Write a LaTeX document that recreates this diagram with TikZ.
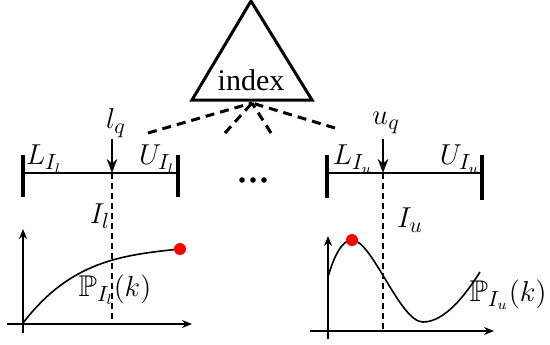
\documentclass[tikz,border=0pt]{standalone}
\usepackage{amsmath, amssymb}
\usepackage{fontspec}
\setmainfont{Liberation Serif}
\usetikzlibrary{arrows.meta, positioning, calc}

\begin{document}
\begin{tikzpicture}[x=0.5pt, y=-0.5pt, >=Stealth,
    lbl/.style={font=\fontsize{15}{17}\selectfont, inner sep=1pt},
    bar/.style={line width=2pt},
    span/.style={line width=1.3pt},
    link/.style={line width=1.5pt, dash pattern=on 4.5pt off 3pt},
    guide/.style={line width=0.6pt, dash pattern=on 3pt off 2pt},
    axis/.style={line width=0.8pt, -{Stealth[length=5pt, width=4pt]}},
    curve/.style={line width=0.8pt},
    peak/.style={circle, fill=red, inner sep=0pt, minimum size=6pt}]
  \useasboundingbox (0,0) rectangle (550,344);

  % index triangle
  \draw[line width=1.5pt] (251,1) -- (312,100) -- (192,100) -- cycle;
  \node[lbl, font=\fontsize{15}{17}\selectfont] (idx) at (251,80) {index};
  \coordinate (base) at (252,103);

  % dashed links to the intervals
  \coordinate (d1) at (148,133);
  \coordinate (d2) at (225,133);
  \coordinate (d3) at (271,133);
  \coordinate (d4) at (335,128);
  \foreach \d in {d1,d2,d3,d4}
    \draw[link] (\d) -- (base);

  % left interval
  \draw[bar] (23,155) -- (23,197);
  \draw[bar] (178,155) -- (178,197);
  \draw[span] (23,173) -- (178,173);
  \coordinate (ql) at (112,173);
  \node[lbl] (lq) at (116,123) {$l_q$};
  \draw[->, line width=0.9pt] (112,139) -- (ql);
  \node[lbl] (Ll) at (44,159) {$L_{I_l}$};
  \node[lbl] (Ul) at (157,159) {$U_{I_l}$};
  \node[lbl] (Il) at (100,216) {$I_l$};

  % left plot
  \draw[axis] (23,333) -- (23,229);
  \draw[axis] (7,324) -- (192,324);
  \draw[guide] (ql) -- (112,324);
  \draw[curve] (23,323) .. controls (70,262) and (120,255) .. (180,249);
  \node[peak] (pl) at (180,249) {};
  \node[lbl] (Pl) at (115,290) {$\mathbb{P}_{I_l}(k)$};

  % dots between the intervals
  \foreach \x in {242,253,264}
    \fill (\x,180) circle (2.8);

  % right interval
  \draw[bar] (327,155) -- (327,198);
  \draw[bar] (482,155) -- (482,200);
  \draw[span] (327,173) -- (482,173);
  \coordinate (qu) at (383,173);
  \node[lbl] (uq) at (386,123) {$u_q$};
  \draw[->, line width=0.9pt] (383,139) -- (qu);
  \node[lbl] (Lu) at (353,159) {$L_{I_u}$};
  \node[lbl] (Uu) at (460,159) {$U_{I_u}$};
  \node[lbl] (Iu) at (410,220) {$I_u$};

  % right plot
  \draw[axis] (328,339) -- (328,236);
  \draw[axis] (310,331) -- (494,331);
  \draw[guide] (qu) -- (383,331);
  \draw[curve] (328,277) .. controls (334,256) and (342,240) .. (352,240)
    .. controls (372,240) and (400,322) .. (423,322)
    .. controls (445,322) and (466,294) .. (480,272);
  \node[peak] (pu) at (352,240) {};
  \node[lbl] (Pu) at (508,295) {$\mathbb{P}_{I_u}(k)$};
\end{tikzpicture}
\end{document}
